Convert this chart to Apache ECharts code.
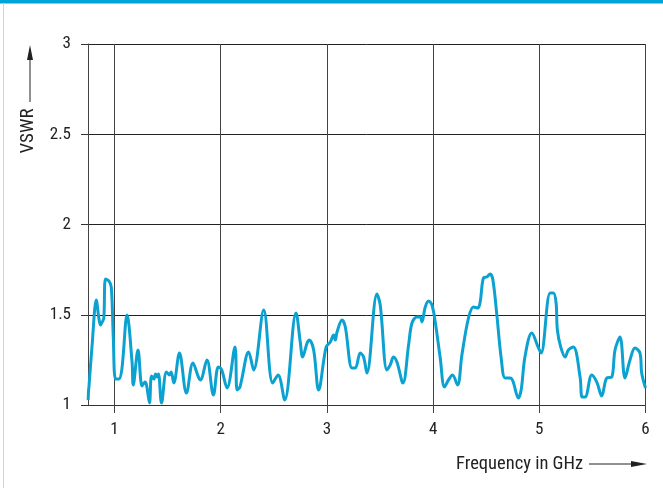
<!DOCTYPE html>
<html><head><meta charset="utf-8">
<script src="https://cdn.jsdelivr.net/npm/echarts@6/dist/echarts.min.js"></script>
<style>html,body{margin:0;padding:0;background:#fff}#c{width:663px;height:488px}</style>
</head><body><div id="c"></div>
<script>
const freqGHz = [0.752,0.755,0.758,0.790,0.828,0.852,0.868,0.884,0.899,0.915,0.946,0.969,0.988,1.009,1.040,1.069,1.118,1.165,1.176,1.221,1.259,1.287,1.301,1.329,1.348,1.370,1.386,1.402,1.414,1.442,1.489,1.517,1.533,1.558,1.611,1.677,1.738,1.790,1.809,1.870,1.931,1.976,1.997,2.013,2.060,2.134,2.154,2.181,2.263,2.310,2.405,2.489,2.540,2.602,2.709,2.750,2.771,2.813,2.834,2.875,2.922,2.992,3.032,3.063,3.079,3.095,3.142,3.173,3.236,3.267,3.314,3.345,3.377,3.471,3.502,3.565,3.596,3.627,3.659,3.716,3.769,3.801,3.848,3.879,3.895,3.926,3.957,3.989,4.020,4.067,4.107,4.145,4.182,4.230,4.271,4.333,4.380,4.421,4.443,4.474,4.506,4.537,4.563,4.600,4.641,4.678,4.725,4.751,4.803,4.829,4.866,4.929,4.992,5.017,5.102,5.133,5.158,5.170,5.202,5.243,5.274,5.321,5.384,5.403,5.431,5.494,5.541,5.588,5.635,5.682,5.713,5.760,5.807,5.854,5.901,5.948,5.964,6.0];
const vswr = [1.028,1.080,1.094,1.343,1.582,1.482,1.443,1.460,1.482,1.698,1.687,1.654,1.377,1.144,1.144,1.199,1.499,1.238,1.111,1.305,1.105,1.127,1.111,1.011,1.161,1.144,1.172,1.155,1.172,1.011,1.183,1.166,1.183,1.122,1.288,1.066,1.233,1.155,1.139,1.249,1.055,1.211,1.205,1.188,1.094,1.321,1.083,1.100,1.294,1.194,1.526,1.122,1.166,1.028,1.510,1.343,1.266,1.343,1.360,1.305,1.083,1.321,1.349,1.388,1.360,1.404,1.471,1.432,1.205,1.205,1.288,1.266,1.177,1.615,1.554,1.194,1.222,1.266,1.238,1.122,1.332,1.454,1.488,1.488,1.460,1.543,1.576,1.554,1.460,1.260,1.100,1.139,1.166,1.111,1.277,1.482,1.543,1.537,1.571,1.704,1.709,1.726,1.693,1.499,1.260,1.150,1.150,1.133,1.039,1.083,1.271,1.399,1.316,1.288,1.620,1.620,1.565,1.416,1.321,1.266,1.305,1.321,1.155,1.044,1.044,1.166,1.127,1.050,1.150,1.155,1.305,1.377,1.150,1.249,1.316,1.288,1.177,1.094];
const xTicks = [1,2,3,4,5,6];
const yAxisTitle = 'VSWR';
const xAxisTitle = 'Frequency in GHz';

const FONT = '"Liberation Sans Narrow", "Roboto Condensed", "Liberation Sans", sans-serif';
const chart = echarts.init(document.getElementById('c'));
const pts = freqGHz.map((f, i) => [f, vswr[i]]);
chart.setOption({
  animation: false,
  backgroundColor: '#fff',
  grid: { left: 88, right: 17.5, top: 44, bottom: 83, containLabel: false },
  xAxis: {
    type: 'value', min: 0.75, max: 6,
    axisLine: { show: true, lineStyle: { color: '#333', width: 1 } },
    axisTick: { show: true, length: 8, customValues: xTicks, lineStyle: { color: '#444', width: 1 } },
    axisLabel: { customValues: xTicks, margin: 16, color: '#222', fontSize: 17, fontFamily: FONT },
    splitLine: { show: true, lineStyle: { color: '#444', width: 1 } }
  },
  yAxis: {
    type: 'value', min: 1, max: 3, interval: 0.5,
    axisLine: { show: true, lineStyle: { color: '#444', width: 1 } },
    axisTick: { show: true, length: 7, lineStyle: { color: '#333', width: 1 } },
    axisLabel: { margin: 17, color: '#222', fontSize: 17, fontFamily: FONT },
    splitLine: { show: true, lineStyle: { color: '#222', width: 1 } }
  },
  series: [{
    type: 'line', data: pts, showSymbol: false, smooth: 0.35,
    lineStyle: { color: '#0ba1d1', width: 3 }, clip: true
  }],
  graphic: [
    { type: 'rect', shape: { x: 0, y: 0, width: 663, height: 3.5 }, style: { fill: '#00a3d6' }, z: 100 },
    { type: 'line', shape: { x1: 3.5, y1: 3, x2: 3.5, y2: 488 }, style: { stroke: '#d4d4d4', lineWidth: 1 }, z: 100 },
    { type: 'text', x: 28, y: 131, rotation: Math.PI / 2,
      style: { text: yAxisTitle, fill: '#222', font: '19px ' + FONT, textAlign: 'center', textVerticalAlign: 'middle' }, z: 100 },
    { type: 'line', shape: { x1: 30, y1: 102, x2: 30, y2: 56 }, style: { stroke: '#222', lineWidth: 1 }, z: 100 },
    { type: 'polygon', shape: { points: [[30, 45], [27, 60], [33, 60]] }, style: { fill: '#222' }, z: 100 },
    { type: 'text', x: 456, y: 464,
      style: { text: xAxisTitle, fill: '#222', font: '18.5px ' + FONT, textAlign: 'left', textVerticalAlign: 'middle' }, z: 100 },
    { type: 'line', shape: { x1: 589, y1: 464, x2: 634, y2: 464 }, style: { stroke: '#222', lineWidth: 1 }, z: 100 },
    { type: 'polygon', shape: { points: [[647, 464], [631, 461], [631, 467]] }, style: { fill: '#222' }, z: 100 }
  ]
});
</script></body></html>
